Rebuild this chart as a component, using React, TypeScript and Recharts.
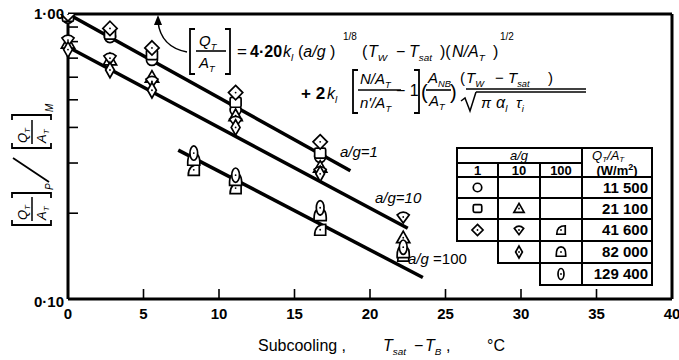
import React from "react"
import { ComposedChart, Line, Scatter, XAxis, YAxis } from "recharts"

// subcooling stations, °C
const stationsA = [0, 2.78, 5.56, 11.1, 16.7]
const stationsB = [0, 2.78, 5.56, 11.1, 16.7, 22.2]
const stationsC = [8.33, 11.1, 16.7, 22.2]

// a/g = 1
const circle11500 = [0.97, 0.83, 0.69, 0.46, 0.315]
const square21100 = [0.98, 0.85, 0.72, 0.49, 0.325]
const diamond41600 = [1.0, 0.89, 0.76, 0.53, 0.356]
// a/g = 10
const triangle21100 = [0.79, 0.69, 0.6, 0.44, 0.29, 0.164]
const shield41600 = [0.81, 0.7, 0.58, 0.42, 0.28, 0.194]
const slim82000 = [0.75, 0.636, 0.54, 0.4, 0.275]
// a/g = 100
const quarter41600 = [0.284, 0.245, 0.175, 0.142]
const dome82000 = [0.308, 0.262, 0.197, 0.146]
const oval129400 = [0.325, 0.272, 0.209, 0.152]

// correlation lines (end points)
const fitX1 = [0, 18.7]
const fitY1 = [1.0, 0.282]
const fitX10 = [0, 22.5]
const fitY10 = [0.766, 0.177]
const fitX100 = [7.3, 23.5]
const fitY100 = [0.333, 0.119]

const xTicks = [0, 5, 10, 15, 20, 25, 30, 35, 40]
const yTicks = [0.1, 0.2, 0.3, 0.4, 0.5, 0.6, 0.7, 0.8, 0.9, 1.0]

const agHeads = ["1", "10", "100"]
const fluxLabels = ["11 500", "21 100", "41 600", "82 000", "129 400"]
const tableMarks: (string | null)[][] = [
  ["circle", null, null],
  ["square", "triangle", null],
  ["diamond", "shield", "quarter"],
  [null, "slim", "dome"],
  [null, null, "oval"],
]
const framedCells: number[][] = [[0, 1, 2], [0, 1, 2], [0, 1, 2], [1, 2], [2]]

const FONT = "'Liberation Sans', Arial, sans-serif"
const pts = (xs: number[], ys: number[]) => xs.map((x, i) => ({ x, y: ys[i] }))

function Marker({ kind, cx, cy, s = 1 }: { kind: string; cx: number; cy: number; s?: number }) {
  const st = { fill: "#fff", stroke: "#000", strokeWidth: 1.7 }
  const dot = <circle cx={cx} cy={cy} r={0.9} fill="#000" />
  switch (kind) {
    case "circle":
      return <circle cx={cx} cy={cy} r={5 * s} {...st} />
    case "square":
      return <rect x={cx - 5 * s} y={cy - 4.5 * s} width={10 * s} height={9 * s} rx={1.5} {...st} />
    case "diamond":
      return (
        <g>
          <path d={`M${cx},${cy - 6.5 * s}L${cx + 6.5 * s},${cy}L${cx},${cy + 6.5 * s}L${cx - 6.5 * s},${cy}Z`} {...st} />
          {dot}
        </g>
      )
    case "triangle":
      return (
        <g>
          <path d={`M${cx},${cy - 6 * s}L${cx + 6 * s},${cy + 4.5 * s}L${cx - 6 * s},${cy + 4.5 * s}Z`} {...st} />
          {dot}
        </g>
      )
    case "shield":
      return (
        <g>
          <path d={`M${cx - 5.5 * s},${cy - 2 * s}Q${cx},${cy - 7 * s} ${cx + 5.5 * s},${cy - 2 * s}L${cx},${cy + 5.5 * s}Z`} {...st} />
          {dot}
        </g>
      )
    case "slim":
      return (
        <g>
          <path d={`M${cx},${cy - 7 * s}L${cx + 4 * s},${cy}L${cx},${cy + 7 * s}L${cx - 4 * s},${cy}Z`} {...st} />
          {dot}
        </g>
      )
    case "quarter":
      return (
        <g>
          <path d={`M${cx + 5 * s},${cy + 5 * s}L${cx - 5 * s},${cy + 5 * s}Q${cx - 5 * s},${cy - 5 * s} ${cx + 5 * s},${cy - 5 * s}Z`} {...st} />
          {dot}
        </g>
      )
    case "dome":
      return (
        <g>
          <path d={`M${cx - 5.5 * s},${cy + 5 * s}Q${cx - 6 * s},${cy - 6 * s} ${cx},${cy - 6 * s}Q${cx + 6 * s},${cy - 6 * s} ${cx + 5.5 * s},${cy + 5 * s}Z`} {...st} />
          {dot}
        </g>
      )
    default:
      return (
        <g>
          <ellipse cx={cx} cy={cy} rx={3.5 * s} ry={6.5 * s} {...st} />
          {dot}
        </g>
      )
  }
}

const shapeOf = (kind: string) => (p: any) => <Marker kind={kind} cx={p.cx} cy={p.cy} s={1.1} />

function BottomLabel({ x, y, payload }: any) {
  return (
    <text x={x} y={y + 8} textAnchor="middle" fontFamily={FONT} fontWeight={700} fontSize={15}>
      {payload.value}
    </text>
  )
}

function LeftLabel({ x, y, payload }: any) {
  const v = payload.value
  const label = v === 1 ? "1·00" : v === 0.1 ? "0·10" : null
  if (!label) return <g />
  return (
    <text x={x} y={y + (v === 1 ? 5 : 8)} textAnchor="end" fontFamily={FONT} fontWeight={700} fontSize={15}>
      {label}
    </text>
  )
}

function Bracket({ x, y1, y2, right = false }: { x: number; y1: number; y2: number; right?: boolean }) {
  const d = right ? -5 : 5
  return <path d={`M${x + d},${y1}L${x},${y1}L${x},${y2}L${x + d},${y2}`} fill="none" stroke="#000" strokeWidth={1.8} />
}

// italic symbol with a small subscript
function Sym({ x, y, b, sub, size = 15, anchor = "start" }: any) {
  return (
    <text x={x} y={y} fontFamily={FONT} fontStyle="italic" fontSize={size} textAnchor={anchor}>
      {b}
      <tspan fontSize={size * 0.62} dy={size * 0.25}>
        {sub}
      </tspan>
    </text>
  )
}

function Annotations() {
  return (
    <svg width={679} height={360} style={{ position: "absolute", left: 0, top: 0, pointerEvents: "none" }}>
      {/* y axis title, rotated */}
      <g transform="translate(31,160) rotate(-90)">
        <Bracket x={-65} y1={-19} y2={20} />
        <Sym x={-60} y={-4} b="Q" sub="T" size={13} />
        <line x1={-61} x2={-37} y1={1} y2={1} stroke="#000" strokeWidth={1.5} />
        <Sym x={-60} y={15} b="A" sub="T" size={13} />
        <Bracket x={-33} y1={-19} y2={20} right />
        <text x={-30} y={22} fontFamily={FONT} fontStyle="italic" fontSize={10}>P</text>
        <line x1={-22} x2={2} y1={18} y2={-18} stroke="#000" strokeWidth={1.8} />
        <Bracket x={12} y1={-19} y2={20} />
        <Sym x={17} y={-4} b="Q" sub="T" size={13} />
        <line x1={16} x2={40} y1={1} y2={1} stroke="#000" strokeWidth={1.5} />
        <Sym x={17} y={15} b="A" sub="T" size={13} />
        <Bracket x={45} y1={-19} y2={20} right />
        <text x={48} y={22} fontFamily={FONT} fontStyle="italic" fontSize={10}>M</text>
      </g>

      {/* x axis title */}
      <text x={258} y={351} fontFamily={FONT} fontSize={16}>Subcooling ,</text>
      <Sym x={383} y={351} b="T" sub="sat" size={16} />
      <text x={414} y={351} fontFamily={FONT} fontSize={16}>−</text>
      <Sym x={425} y={351} b="T" sub="B" size={16} />
      <text x={446} y={351} fontFamily={FONT} fontSize={16}>,</text>
      <text x={487} y={351} fontFamily={FONT} fontSize={16}>°C</text>

      {/* arrow to the correlation */}
      <path d="M187,52 Q161,47 158,22" fill="none" stroke="#000" strokeWidth={1.5} />
      <path d="M158,15 L154,25 L162,25 Z" fill="#000" />

      {/* correlation, first line */}
      <Bracket x={190} y1={29} y2={74} />
      <Sym x={199} y={46} b="Q" sub="T" size={15} />
      <line x1={196} x2={226} y1={51} y2={51} stroke="#000" strokeWidth={1.6} />
      <Sym x={199} y={68} b="A" sub="T" size={15} />
      <Bracket x={230} y1={29} y2={74} right />
      <text x={237} y={57} fontFamily={FONT} fontSize={17}>=</text>
      <text x={250} y={57} fontFamily={FONT} fontWeight={700} fontSize={16}>4·20</text>
      <Sym x={283} y={57} b="k" sub="l" size={16} />
      <text x={298} y={57} fontFamily={FONT} fontSize={16}>
        (<tspan fontStyle="italic">a/g</tspan> )
      </text>
      <text x={343} y={40} fontFamily={FONT} fontSize={10}>1/8</text>
      <text x={362} y={57} fontFamily={FONT} fontSize={16}>(</text>
      <Sym x={368} y={57} b="T" sub="W" size={16} />
      <text x={396} y={57} fontFamily={FONT} fontSize={16}>−</text>
      <Sym x={409} y={57} b="T" sub="sat" size={16} />
      <text x={440} y={57} fontFamily={FONT} fontSize={16}>)(</text>
      <Sym x={452} y={57} b="N/A" sub="T" size={16} />
      <text x={493} y={57} fontFamily={FONT} fontSize={16}>)</text>
      <text x={500} y={40} fontFamily={FONT} fontSize={10}>1/2</text>

      {/* correlation, second line */}
      <text x={301} y={99} fontFamily={FONT} fontWeight={700} fontSize={17}>+ 2</text>
      <Sym x={327} y={99} b="k" sub="l" size={16} />
      <Bracket x={353} y1={70} y2={113} />
      <Sym x={360} y={84} b="N/A" sub="T" size={15} />
      <line x1={358} x2={401} y1={90} y2={90} stroke="#000" strokeWidth={1.6} />
      <Sym x={360} y={108} b="n'/A" sub="T" size={15} />
      <text x={396} y={96} fontFamily={FONT} fontSize={16}>− 1</text>
      <Bracket x={419} y1={70} y2={113} right />
      <text x={421} y={99} fontFamily={FONT} fontSize={20}>(</text>
      <Sym x={428} y={83} b="A" sub="NB" size={15} />
      <line x1={426} x2={451} y1={90} y2={90} stroke="#000" strokeWidth={1.6} />
      <Sym x={429} y={106} b="A" sub="T" size={15} />
      <text x={450} y={99} fontFamily={FONT} fontSize={20}>)</text>
      <text x={460} y={83} fontFamily={FONT} fontSize={15}>(</text>
      <Sym x={466} y={83} b="T" sub="W" size={15} />
      <text x={495} y={83} fontFamily={FONT} fontSize={15}>−</text>
      <Sym x={508} y={83} b="T" sub="sat" size={15} />
      <text x={548} y={83} fontFamily={FONT} fontSize={15}>)</text>
      <line x1={466} x2={586} y1={89} y2={89} stroke="#000" strokeWidth={1.4} />
      <line x1={476} x2={586} y1={92} y2={92} stroke="#000" strokeWidth={1.4} />
      <path d="M461,101 L465,98 L470,111 L476,92" fill="none" stroke="#000" strokeWidth={1.5} />
      <text x={481} y={108} fontFamily={FONT} fontStyle="italic" fontSize={15}>π</text>
      <Sym x={496} y={108} b="α" sub="l" size={16} />
      <Sym x={516} y={108} b="τ" sub="i" size={15} />

      {/* line labels */}
      <text x={340} y={157} fontFamily={FONT} fontStyle="italic" fontSize={15}>a/g=1</text>
      <text x={375} y={203} fontFamily={FONT} fontStyle="italic" fontSize={15}>a/g=10</text>
      <text x={408} y={264} fontFamily={FONT} fontSize={15}>
        <tspan fontStyle="italic">a/g</tspan> =100
      </text>

      <FluxTable />
    </svg>
  )
}

function FluxTable() {
  const cols = [457, 498, 540, 582, 652]
  const rows = [177, 198, 219, 241, 263, 285]
  const sw = 2
  return (
    <g fontFamily={FONT}>
      {/* header */}
      <rect x={457} y={148} width={195} height={29} fill="none" stroke="#000" strokeWidth={sw} />
      <line x1={457} x2={582} y1={163} y2={163} stroke="#000" strokeWidth={sw} />
      <line x1={582} x2={582} y1={148} y2={177} stroke="#000" strokeWidth={sw} />
      {[498, 540].map((c) => (
        <line key={c} x1={c} x2={c} y1={163} y2={177} stroke="#000" strokeWidth={sw} />
      ))}
      <text x={519} y={160} textAnchor="middle" fontStyle="italic" fontSize={13}>a/g</text>
      <text x={592} y={160} fontStyle="italic" fontSize={13}>
        Q<tspan fontSize={8} dy={2}>T</tspan>
        <tspan dy={-2}>/A</tspan>
        <tspan fontSize={8} dy={2}>T</tspan>
      </text>
      {agHeads.map((h, i) => (
        <text key={h} x={(cols[i] + cols[i + 1]) / 2} y={175} textAnchor="middle" fontWeight={700} fontSize={13}>
          {h}
        </text>
      ))}
      <text x={617} y={175} textAnchor="middle" fontWeight={700} fontSize={13}>
        (W/m<tspan fontSize={9} dy={-5}>2</tspan>
        <tspan dy={5}>)</tspan>
      </text>

      {/* body */}
      {fluxLabels.map((f, r) => (
        <g key={f}>
          {framedCells[r].map((c) => (
            <rect
              key={c}
              x={cols[c]}
              y={rows[r]}
              width={cols[c + 1] - cols[c]}
              height={rows[r + 1] - rows[r]}
              fill="none"
              stroke="#000"
              strokeWidth={sw}
            />
          ))}
          <rect x={582} y={rows[r]} width={70} height={rows[r + 1] - rows[r]} fill="none" stroke="#000" strokeWidth={sw} />
          <text x={648} y={rows[r] + 16} textAnchor="end" fontWeight={700} fontSize={15}>
            {f}
          </text>
          {tableMarks[r].map((m, c) =>
            m ? <Marker key={c} kind={m} cx={(cols[c] + cols[c + 1]) / 2} cy={(rows[r] + rows[r + 1]) / 2} s={0.85} /> : null
          )}
        </g>
      ))}
    </g>
  )
}

export default function App() {
  const frame = { stroke: "#000", strokeWidth: 3 }
  const tickStroke = { stroke: "#000", strokeWidth: 1.6 }
  return (
    <div style={{ position: "absolute", left: 0, top: 0, width: 679, height: 360, background: "#fff" }}>
      <ComposedChart width={679} height={360} margin={{ top: 13, right: 6, bottom: 60, left: 67 }}>
        {/* negative tick sizes turn the tick marks inwards */}
        <XAxis
          dataKey="x"
          type="number"
          domain={[0, 40]}
          ticks={xTicks}
          height={1}
          tickSize={-10}
          tickMargin={22}
          axisLine={frame}
          tickLine={tickStroke}
          tick={<BottomLabel />}
          interval={0}
        />
        <XAxis
          xAxisId="top"
          orientation="top"
          dataKey="x"
          type="number"
          domain={[0, 40]}
          ticks={xTicks}
          height={1}
          tickSize={-10}
          axisLine={frame}
          tickLine={tickStroke}
          tick={false}
          interval={0}
        />
        <YAxis
          type="number"
          scale="log"
          domain={[0.1, 1]}
          allowDataOverflow
          ticks={yTicks}
          width={1}
          tickSize={-10}
          tickMargin={14}
          axisLine={frame}
          tickLine={tickStroke}
          tick={<LeftLabel />}
          interval={0}
        />
        <YAxis
          yAxisId="right"
          orientation="right"
          type="number"
          scale="log"
          domain={[0.1, 1]}
          allowDataOverflow
          ticks={yTicks}
          width={1}
          tickSize={-9}
          axisLine={frame}
          tickLine={tickStroke}
          tick={false}
          interval={0}
        />
        <Line data={pts(fitX1, fitY1)} dataKey="y" type="linear" stroke="#000" strokeWidth={3.5} dot={false} isAnimationActive={false} />
        <Line data={pts(fitX10, fitY10)} dataKey="y" type="linear" stroke="#000" strokeWidth={3.5} dot={false} isAnimationActive={false} />
        <Line data={pts(fitX100, fitY100)} dataKey="y" type="linear" stroke="#000" strokeWidth={3.5} dot={false} isAnimationActive={false} />
        {/* keeps the secondary axes tied to a series */}
        <Line xAxisId="top" yAxisId="right" data={pts(fitX1, fitY1)} dataKey="y" stroke="none" dot={false} isAnimationActive={false} />

        <Scatter data={pts(stationsA, circle11500)} dataKey="y" shape={shapeOf("circle")} isAnimationActive={false} />
        <Scatter data={pts(stationsA, square21100)} dataKey="y" shape={shapeOf("square")} isAnimationActive={false} />
        <Scatter data={pts(stationsA, diamond41600)} dataKey="y" shape={shapeOf("diamond")} isAnimationActive={false} />
        <Scatter data={pts(stationsB, triangle21100)} dataKey="y" shape={shapeOf("triangle")} isAnimationActive={false} />
        <Scatter data={pts(stationsB, shield41600)} dataKey="y" shape={shapeOf("shield")} isAnimationActive={false} />
        <Scatter data={pts(stationsA, slim82000)} dataKey="y" shape={shapeOf("slim")} isAnimationActive={false} />
        <Scatter data={pts(stationsC, quarter41600)} dataKey="y" shape={shapeOf("quarter")} isAnimationActive={false} />
        <Scatter data={pts(stationsC, dome82000)} dataKey="y" shape={shapeOf("dome")} isAnimationActive={false} />
        <Scatter data={pts(stationsC, oval129400)} dataKey="y" shape={shapeOf("oval")} isAnimationActive={false} />
      </ComposedChart>
      <Annotations />
    </div>
  )
}
